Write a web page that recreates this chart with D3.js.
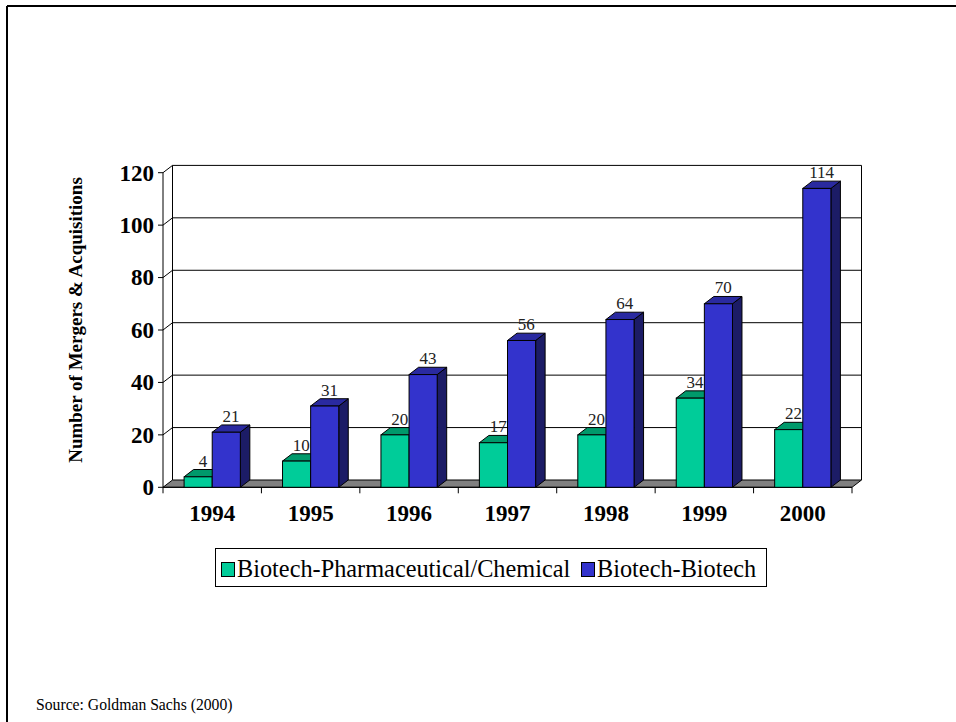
<!DOCTYPE html>
<html>
<head>
<meta charset="utf-8">
<script src="https://cdn.jsdelivr.net/npm/d3@7"></script>
<style>
  html, body { margin: 0; padding: 0; background: #fff; }
  svg { display: block; }
  text { font-family: "Liberation Serif", "Times New Roman", serif; }
</style>
</head>
<body>
<svg id="chart" width="956" height="722"></svg>
<script>
// Mergers & acquisitions by year, two deal types
const years = ["1994", "1995", "1996", "1997", "1998", "1999", "2000"];
const pharmaChem = [4, 10, 20, 17, 20, 34, 22];
const biotechBiotech = [21, 31, 43, 56, 64, 70, 114];
const seriesNames = ["Biotech-Pharmaceutical/Chemical", "Biotech-Biotech"];
const yTicks = [0, 20, 40, 60, 80, 100, 120];

const series = [
  { name: seriesNames[0], values: pharmaChem, front: "#00CC99", top: "#00996B", side: "#006647" },
  { name: seriesNames[1], values: biotechBiotech, front: "#3333CC", top: "#2A2AA0", side: "#1C1C66" }
];

const svg = d3.select("#chart");

// page frame
svg.append("line").attr("x1", 7).attr("x2", 956).attr("y1", 6).attr("y2", 6)
  .attr("stroke", "#000").attr("stroke-width", 2);
svg.append("line").attr("x1", 7).attr("x2", 7).attr("y1", 6).attr("y2", 722)
  .attr("stroke", "#000").attr("stroke-width", 2);

// 3D geometry: front plane and depth offset
const x0 = 163, x1 = 852;
const dx = 9.5, dy = -7.3;
const y = d3.scaleLinear().domain([0, 120]).range([487.3, 172.7]);
const x = d3.scaleBand().domain(years).range([x0, x1]).paddingInner(0).paddingOuter(0);
const bw = x.bandwidth() / 3.5;       // gap width 150%
const inner = d3.scaleBand().domain(seriesNames).range([0, 2 * bw]);

const g = svg.append("g");

// back wall gridlines and left wall lines
yTicks.forEach(t => {
  if (t > 0) {
    g.append("line")
      .attr("x1", x0 + dx).attr("x2", x1 + dx)
      .attr("y1", y(t) + dy).attr("y2", y(t) + dy)
      .attr("stroke", "#000").attr("stroke-width", 1);
    g.append("line")
      .attr("x1", x0).attr("x2", x0 + dx)
      .attr("y1", y(t)).attr("y2", y(t) + dy)
      .attr("stroke", "#000").attr("stroke-width", 1);
  }
});
// back wall edges
g.append("line").attr("x1", x0 + dx).attr("x2", x0 + dx)
  .attr("y1", y(120) + dy).attr("y2", y(0) + dy).attr("stroke", "#000");
g.append("line").attr("x1", x1 + dx).attr("x2", x1 + dx)
  .attr("y1", y(120) + dy).attr("y2", y(0) + dy).attr("stroke", "#000");

// floor
const floorPts = [[x0, y(0)], [x1, y(0)], [x1 + dx, y(0) + dy], [x0 + dx, y(0) + dy]];
g.append("polygon")
  .attr("points", floorPts.map(p => p.join(",")).join(" "))
  .attr("fill", "#808080").attr("stroke", "#000").attr("stroke-width", 1);

// front value axis
g.append("line").attr("x1", x0).attr("x2", x0)
  .attr("y1", y(0)).attr("y2", y(120)).attr("stroke", "#000");
yTicks.forEach(t => {
  g.append("line").attr("x1", x0 - 5).attr("x2", x0)
    .attr("y1", y(t)).attr("y2", y(t)).attr("stroke", "#000");
  g.append("text")
    .attr("x", 154).attr("y", y(t)).attr("dy", "0.34em")
    .attr("text-anchor", "end")
    .attr("font-size", 23).attr("font-weight", "bold")
    .text(t);
});

// front category axis
g.append("line").attr("x1", x0).attr("x2", x1)
  .attr("y1", y(0)).attr("y2", y(0)).attr("stroke", "#000");
d3.range(years.length + 1).forEach(i => {
  const xx = x0 + i * x.step();
  g.append("line").attr("x1", xx).attr("x2", xx)
    .attr("y1", y(0)).attr("y2", y(0) + 6).attr("stroke", "#000");
});
years.forEach(yr => {
  g.append("text")
    .attr("x", x(yr) + x.bandwidth() / 2).attr("y", 521)
    .attr("text-anchor", "middle")
    .attr("font-size", 23).attr("font-weight", "bold")
    .text(yr);
});

// bars
const pts = arr => arr.map(p => p.join(",")).join(" ");
years.forEach((yr, i) => {
  series.forEach(s => {
    const v = s.values[i];
    const bx = x(yr) + 0.75 * bw + inner(s.name);
    const by = y(v), b0 = y(0);
    const bar = g.append("g");
    bar.append("polygon")
      .attr("points", pts([[bx + bw, b0], [bx + bw + dx, b0 + dy], [bx + bw + dx, by + dy], [bx + bw, by]]))
      .attr("fill", s.side).attr("stroke", "#000").attr("stroke-width", 1).attr("stroke-linejoin", "round");
    bar.append("polygon")
      .attr("points", pts([[bx, by], [bx + bw, by], [bx + bw + dx, by + dy], [bx + dx, by + dy]]))
      .attr("fill", s.top).attr("stroke", "#000").attr("stroke-width", 1).attr("stroke-linejoin", "round");
    bar.append("rect")
      .attr("x", bx).attr("y", by).attr("width", bw).attr("height", b0 - by)
      .attr("fill", s.front).attr("stroke", "#000").attr("stroke-width", 1);
  });
});

// value labels, drawn above all bars
years.forEach((yr, i) => {
  series.forEach(s => {
    const v = s.values[i];
    const bx = x(yr) + 0.75 * bw + inner(s.name);
    g.append("text")
      .attr("x", bx + bw / 2 + dx / 2).attr("y", y(v) + dy - 3)
      .attr("text-anchor", "middle")
      .attr("font-size", 17).attr("fill", "#222")
      .text(v);
  });
});

// value axis title
svg.append("text")
  .attr("transform", "translate(82,320) rotate(-90)")
  .attr("text-anchor", "middle")
  .attr("font-size", 19).attr("font-weight", "bold")
  .text("Number of Mergers & Acquisitions");

// legend
const legend = svg.append("g");
legend.append("rect").attr("x", 215.5).attr("y", 548.5).attr("width", 551).attr("height", 38)
  .attr("fill", "#fff").attr("stroke", "#000").attr("stroke-width", 1);
const legendItems = [
  { s: series[0], sx: 221, tx: 237 },
  { s: series[1], sx: 581, tx: 597 }
];
legendItems.forEach(it => {
  legend.append("rect").attr("x", it.sx + 0.5).attr("y", 562.5).attr("width", 13).attr("height", 14)
    .attr("fill", it.s.front).attr("stroke", "#000").attr("stroke-width", 1);
  legend.append("text").attr("x", it.tx).attr("y", 577)
    .attr("font-size", 24.3).text(it.s.name);
});

// source note
svg.append("text").attr("x", 36).attr("y", 710)
  .attr("font-size", 15.7).text("Source: Goldman Sachs (2000)");
</script>
</body>
</html>
